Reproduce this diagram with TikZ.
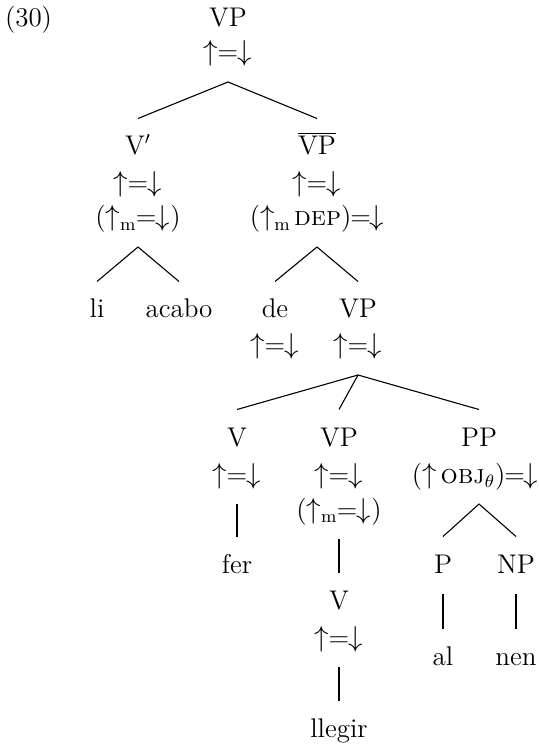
\documentclass[tikz,border=0pt]{standalone}
\newcommand\ud{$\uparrow$\kern-0.02em=\kern-0.02em$\downarrow$}
\newcommand\udm{($\uparrow_{\mathrm{m}}$\kern-0.02em=\kern-0.02em$\downarrow$)}
\begin{document}
\begin{tikzpicture}[x=0.5pt,y=-0.5pt,
  lbl/.style={font=\fontsize{13.5}{16}\selectfont, anchor=base,
    text height=10.25pt, text depth=2.5pt,
    inner xsep=0pt, inner ysep=0pt, outer xsep=0pt, outer ysep=8pt},
  br/.style={line width=0.55pt}]
\useasboundingbox (0,0) rectangle (538,747);
% example number
\node[lbl, anchor=base west] (ex) at (5,27) {(30)};
% root
\node[lbl] (r1) at (228,27) {VP};
\node[lbl] (r2) at (228,61) {\ud};
% V'
\node[lbl] (a1) at (138,155) {V$'$};
\node[lbl] (a2) at (138,192) {\ud};
\node[lbl] (a3) at (138,226) {\udm};
% VP-bar
\node[lbl] (b1) at (317,155) {$\overline{\mbox{VP}}$};
\node[lbl] (b2) at (317,192) {\ud};
\node[lbl] (b3) at (317,226) {($\uparrow_{\mathrm{m}}$\kern0.12em\textsc{dep})\kern-0.04em=\kern-0.04em$\downarrow$};
% leaves of V'
\node[lbl] (li) at (97,318) {li};
\node[lbl] (acabo) at (179,318) {acabo};
% daughters of VP-bar
\node[lbl] (de1) at (275,318) {de};
\node[lbl] (de2) at (275,354) {\ud};
\node[lbl] (c1) at (358,318) {VP};
\node[lbl] (c2) at (358,354) {\ud};
% daughters of VP
\node[lbl] (v1) at (237,446) {V};
\node[lbl] (v2) at (237,483) {\ud};
\node[lbl] (fer) at (237,573) {fer};
\node[lbl] (d1) at (339,446) {VP};
\node[lbl] (d2) at (339,483) {\ud};
\node[lbl] (d3) at (339,518) {\udm};
\node[lbl] (e1) at (339,609) {V};
\node[lbl] (e2) at (339,646) {\ud};
\node[lbl] (llegir) at (339,737) {llegir};
\node[lbl] (p1) at (479,446) {PP};
\node[lbl] (p2) at (475,483) {($\uparrow$\kern0.15em\textsc{obj}$_{\theta}$)\kern-0.04em=\kern-0.04em$\downarrow$};
\node[lbl] (pp) at (443,573) {P};
\node[lbl] (np) at (516,573) {NP};
\node[lbl] (al) at (443,665) {al};
\node[lbl] (nen) at (516,665) {nen};
% branches
\draw[br] (r2.south) -- (a1.north);
\draw[br] (r2.south) -- (b1.north);
\draw[br] (a3.south) -- (li.north);
\draw[br] (a3.south) -- (acabo.north);
\draw[br] (b3.south) -- (de1.north);
\draw[br] (b3.south) -- (c1.north);
\draw[br] (c2.south) -- (v1.north);
\draw[br] (c2.south) -- (d1.north);
\draw[br] (c2.south) -- (p1.north);
\draw[br] (v2.south) -- (fer.north);
\draw[br] (d3.south) -- (e1.north);
\draw[br] (e2.south) -- (llegir.north);
\draw[br] (p2.south) ++(4,0) coordinate (papex) -- (pp.north);
\draw[br] (papex) -- (np.north);
\draw[br] (pp.south) -- (al.north);
\draw[br] (np.south) -- (nen.north);
\end{tikzpicture}
\end{document}
